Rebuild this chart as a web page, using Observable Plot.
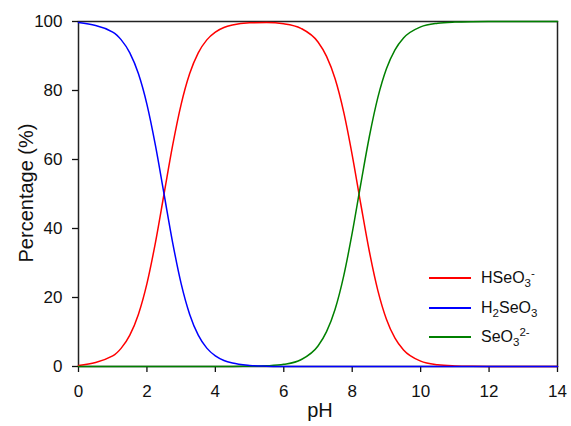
<!DOCTYPE html>
<html>
<head>
<meta charset="utf-8">
<script src="https://cdn.jsdelivr.net/npm/d3@7"></script>
<script src="https://cdn.jsdelivr.net/npm/@observablehq/plot@0.6"></script>
<style>
  body { margin: 0; background: #fff; }
  #wrap { position: relative; width: 571px; height: 426px; font-family: "Liberation Sans", Arial, sans-serif; }
  .row { position: absolute; left: 429px; height: 20px; display: flex; align-items: center; font-size: 16px; color: #111; white-space: nowrap; }
  .sw { display: inline-block; width: 42px; height: 1.5px; margin-right: 10px; }
  .sub { font-size: 0.72em; position: relative; top: 0.38em; }
  .sup { font-size: 0.72em; position: relative; top: -0.55em; }
  .title { position: absolute; font-size: 20px; line-height: 1; color: #111; white-space: nowrap; }
</style>
</head>
<body>
<div id="wrap"></div>
<script>
const pH = [0, 1, 1.25, 1.5, 1.75, 2, 2.25, 2.5, 2.75, 3, 3.25, 3.5, 3.75, 4, 4.25, 4.5, 5, 5.5, 6,
            6.5, 7, 7.25, 7.5, 7.75, 8, 8.25, 8.5, 8.75, 9, 9.25, 9.5, 10, 10.5, 11, 11.5, 12, 13, 14];
const H2SeO3 = [99.68, 96.94, 94.68, 90.91, 84.9, 75.97, 64.0, 50.0, 36.0, 24.03, 15.1, 9.09, 5.32, 3.07, 1.75, 0.99, 0.32, 0.10, 0.03,
                0.01, 0, 0, 0, 0, 0, 0, 0, 0, 0, 0, 0, 0, 0, 0, 0, 0, 0, 0];
const HSeO3 = [0.32, 3.06, 5.32, 9.09, 15.1, 24.03, 36.0, 50.0, 64.0, 75.97, 84.9, 90.91, 94.68, 96.93, 98.25, 98.99, 99.62, 99.7, 99.34,
               98.03, 94.07, 89.9, 83.4, 73.8, 61.3, 47.1, 33.4, 22.0, 13.7, 8.2, 4.77, 1.56, 0.5, 0.16, 0.05, 0.02, 0, 0];
const SeO3 = [0, 0, 0, 0, 0, 0, 0, 0, 0, 0, 0, 0, 0, 0, 0.01, 0.02, 0.06, 0.2, 0.63,
              1.96, 5.93, 10.1, 16.6, 26.2, 38.7, 52.9, 66.6, 78.0, 86.3, 91.8, 95.23, 98.44, 99.5, 99.84, 99.95, 99.98, 100, 100];
const xTicks = [0, 2, 4, 6, 8, 10, 12, 14];
const yTicks = [0, 20, 40, 60, 80, 100];
const xTitle = "pH";
const yTitle = "Percentage (%)";

const series = [
  {name: "HSeO3-", values: HSeO3, color: "#ff0000"},
  {name: "SeO3 2-", values: SeO3, color: "#008000"},
  {name: "H2SeO3", values: H2SeO3, color: "#0000ff"}
];
const rows = (s) => pH.map((x, i) => ({x, y: s.values[i]}));

const chart = Plot.plot({
  width: 571,
  height: 426,
  marginLeft: 78,
  marginRight: 14,
  marginTop: 21,
  marginBottom: 60,
  style: {fontFamily: "'Liberation Sans', Arial, sans-serif", fontSize: "17px", color: "#111", background: "#fff"},
  x: {domain: [0, 14]},
  y: {domain: [0, 100]},
  marks: [
    Plot.frame({stroke: "#222", strokeWidth: 1.5}),
    Plot.axisX({ticks: xTicks, tickSize: 6, tickPadding: 12, label: null, fontSize: 17, strokeWidth: 1.3}),
    Plot.axisY({ticks: yTicks, tickSize: 6, tickPadding: 10, label: null, fontSize: 17, strokeWidth: 1.3}),
    ...series.map(s => Plot.line(rows(s), {x: "x", y: "y", stroke: s.color, strokeWidth: 1.5, curve: "monotone-x"}))
  ]
});
const wrap = document.getElementById("wrap");
wrap.appendChild(chart);

const xt = document.createElement("div");
xt.className = "title";
xt.textContent = xTitle;
xt.style.left = "320px";
xt.style.top = "410px";
xt.style.transform = "translate(-50%, -50%)";
wrap.appendChild(xt);

const yt = document.createElement("div");
yt.className = "title";
yt.textContent = yTitle;
yt.style.left = "26px";
yt.style.top = "193px";
yt.style.transform = "translate(-50%, -50%) rotate(-90deg)";
wrap.appendChild(yt);

const legendItems = [
  {color: "#ff0000", html: 'HSeO<span class="sub">3</span><span class="sup">-</span>', y: 278},
  {color: "#0000ff", html: 'H<span class="sub">2</span>SeO<span class="sub">3</span>', y: 308},
  {color: "#008000", html: 'SeO<span class="sub">3</span><span class="sup">2-</span>', y: 337}
];
for (const it of legendItems) {
  const d = document.createElement("div");
  d.className = "row";
  d.style.top = (it.y - 10) + "px";
  d.innerHTML = `<span class="sw" style="background:${it.color}"></span><span>${it.html}</span>`;
  wrap.appendChild(d);
}
</script>
</body>
</html>
